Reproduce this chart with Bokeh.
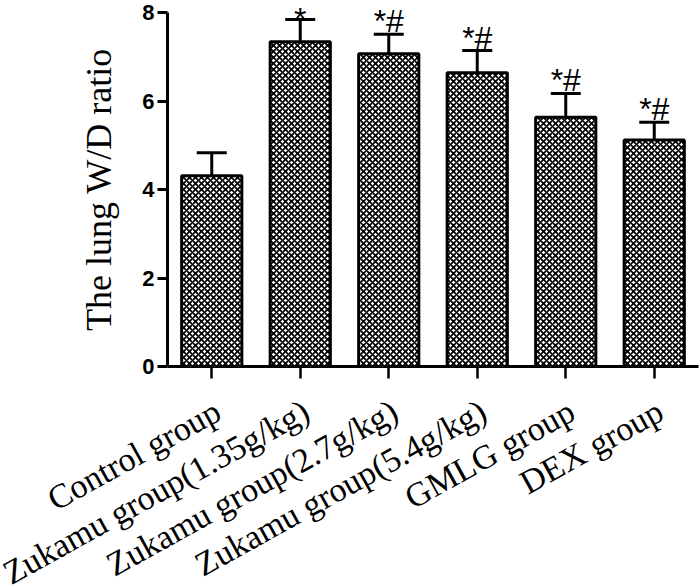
from bokeh.plotting import figure
from bokeh.models import (ColumnDataSource, Range1d, Whisker, TeeHead, FixedTicker)
from bokeh.core.properties import value
from bokeh.embed import file_html
from bokeh.resources import INLINE

# ---- data ----
groups = ["Control group", "Zukamu group(1.35g/kg)", "Zukamu group(2.7g/kg)",
          "Zukamu group(5.4g/kg)", "GMLG group", "DEX group"]
means = [4.31, 7.34, 7.07, 6.64, 5.63, 5.12]
errors = [0.52, 0.50, 0.44, 0.50, 0.54, 0.40]
marks = ["", "*", "*#", "*#", "*#", "*#"]
y_ticks = [0, 2, 4, 6, 8]

# ---- layout constants (pixels) ----
W, H = 700, 586
AXIS_X = 167          # y axis line
RIGHT_END = 698       # end of x axis line
AXIS_Y = 366          # x axis line (value 0)
PX_PER_Y = 44.25      # pixels per y unit
px_cat = (RIGHT_END - AXIS_X) / len(groups)

xs = list(range(len(groups)))
upper = [m + e for m, e in zip(means, errors)]
mark_dy = [-1 if s == "*" else -13 for s in marks]
src = ColumnDataSource(dict(x=xs, mean=means, upper=upper, mark=marks, dy=mark_dy))

x_start = -0.5 - AXIS_X / px_cat
y_end = AXIS_Y / PX_PER_Y
y_start = y_end - H / PX_PER_Y

p = figure(x_range=Range1d(x_start, x_start + W / px_cat), y_range=Range1d(y_start, y_end),
           width=W, height=H, output_backend="svg", toolbar_location=None,
           min_border_left=0, min_border_right=0, min_border_top=0, min_border_bottom=0)
p.outline_line_color = None
p.xgrid.grid_line_color = None
p.ygrid.grid_line_color = None

p.vbar(x="x", top="mean", width=0.68, source=src,
       fill_color="white", line_color="black", line_width=3,
       hatch_pattern="x", hatch_scale=6, hatch_weight=1.7, hatch_color="black")

wh = Whisker(source=src, base="x", lower="mean", upper="upper",
             line_color="black", line_width=3,
             upper_head=TeeHead(size=30, line_width=3, line_color="black"),
             lower_head=None)
p.add_layout(wh)

p.text(x="x", y="upper", text="mark", source=src, y_offset="dy",
       text_align="center", text_baseline="alphabetic",
       text_font=value("Liberation Sans"), text_font_size="32px",
       text_color="black")

# y axis, drawn at the left edge of the bars area
ya = p.yaxis[0]
ya.fixed_location = -0.5
ya.ticker = FixedTicker(ticks=y_ticks)
ya.bounds = (0, 8)
ya.axis_line_width = 3
ya.major_tick_line_width = 3
ya.major_tick_out = 10
ya.major_tick_in = 0
ya.minor_tick_line_color = None
ya.major_label_standoff = 3
ya.major_label_text_font = "Liberation Sans"
ya.major_label_text_font_style = "bold"
ya.major_label_text_font_size = "22px"
ya.major_label_text_color = "black"
ya.axis_label = "The lung W/D ratio"
ya.axis_label_text_font = "Liberation Serif"
ya.axis_label_text_font_style = "normal"
ya.axis_label_text_font_size = "36px"
ya.axis_label_text_color = "black"
ya.axis_label_standoff = 20

# x axis at value 0, ticks under the bars only
xa = p.xaxis[0]
xa.fixed_location = 0
xa.ticker = FixedTicker(ticks=xs)
xa.bounds = (-0.5, len(groups) - 0.5)
xa.axis_line_width = 3
xa.major_tick_line_width = 2.5
xa.major_tick_out = 12
xa.major_tick_in = 0
xa.minor_tick_line_color = None
xa.major_label_text_font_size = "0px"
xa.major_label_standoff = 0

# rotated category labels, each ending just under its tick
label_y = -0.95
lab_src = ColumnDataSource(dict(pos=xs, name=groups, ly=[label_y] * len(groups)))
p.text(x="pos", y="ly", text="name", source=lab_src, x_offset=6,
       angle=29, angle_units="deg", text_align="right", text_baseline="middle",
       text_font=value("Liberation Serif"), text_font_size="34px", text_color="black")

open("out.html", "w").write(file_html(p, INLINE))
